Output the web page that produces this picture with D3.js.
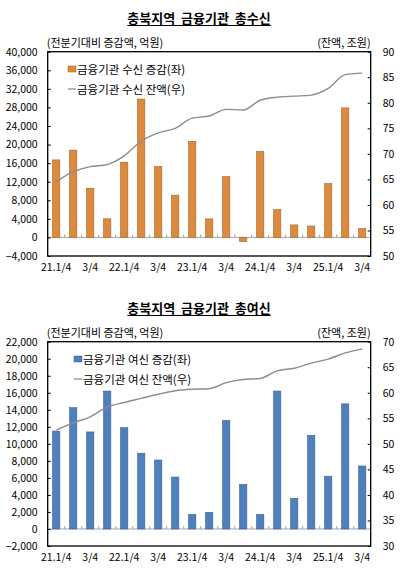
<!DOCTYPE html>
<html>
<head>
<meta charset="utf-8">
<script src="https://cdn.jsdelivr.net/npm/d3@7"></script>
<style>
  body { margin: 0; background: #fff; }
  text { font-family: "Noto Sans CJK KR", "Noto Sans", sans-serif; fill: #000; }
</style>
</head>
<body>
<div id="chart"></div>
<script>
// quarters 21.1/4 ~ 25.3/4
const quarters = ["21.1/4","21.2/4","21.3/4","21.4/4","22.1/4","22.2/4","22.3/4","22.4/4",
                  "23.1/4","23.2/4","23.3/4","23.4/4","24.1/4","24.2/4","24.3/4","24.4/4",
                  "25.1/4","25.2/4","25.3/4"];
const xTickLabels = ["21.1/4","3/4","22.1/4","3/4","23.1/4","3/4","24.1/4","3/4","25.1/4","3/4"];

// 총수신
const depositChange  = [16700,18800,10600,4000,16200,29800,15300,9100,20700,4000,13100,-900,18500,6000,2700,2450,11600,27900,1900];
const depositBalance = [64.5,66.5,67.5,67.9,69.6,72.5,74.1,75.0,77.0,77.4,78.7,78.6,80.5,81.1,81.3,81.5,82.8,85.5,85.8];
const depositLeftTicks  = [-4000,0,4000,8000,12000,16000,20000,24000,28000,32000,36000,40000];
const depositRightTicks = [50,55,60,65,70,75,80,85,90];

// 총여신
const loanChange  = [11500,14250,11400,16200,11900,8900,8100,6100,1700,1950,12750,5250,1700,16200,3600,11000,6200,14700,7400];
const loanBalance = [52.7,54.1,55.3,57.2,58.1,58.9,59.7,60.4,60.7,60.8,62.0,62.6,62.8,64.3,64.8,65.8,66.6,67.8,68.6];
const loanLeftTicks  = [-2000,0,2000,4000,6000,8000,10000,12000,14000,16000,18000,20000,22000];
const loanRightTicks = [30,35,40,45,50,55,60,65,70];

const width = 400;
const height = 580;

const svg = d3.select("#chart").append("svg")
    .attr("width", width)
    .attr("height", height);

function drawPanel(p) {
    var g = svg.append("g").attr("transform", "translate(0," + p.offset + ")");

    var left = 47.7, right = 370.7, top = 51.7, bottom = 256;

    var x = d3.scaleBand().domain(quarters).range([left, right])
        .paddingInner(0.57).paddingOuter(0.285);
    var yL = d3.scaleLinear().domain(d3.extent(p.leftTicks)).range([bottom, top]);
    var yR = d3.scaleLinear().domain(d3.extent(p.rightTicks)).range([bottom, top]);

    // title + underline
    var title = g.append("text")
        .attr("x", 199).attr("y", 22.5)
        .attr("text-anchor", "middle")
        .style("font-size", "13px").style("font-weight", "bold")
        .style("white-space", "pre")
        .text(p.title);
    var tw = title.node().getComputedTextLength();
    g.append("line")
        .attr("x1", 199 - tw / 2).attr("x2", 199 + tw / 2)
        .attr("y1", 25.5).attr("y2", 25.5)
        .attr("stroke", "#000").attr("stroke-width", 1);

    // units
    g.append("text").attr("x", left - 1).attr("y", 46.5)
        .style("font-size", "11px").text("(전분기대비 증감액, 억원)");
    g.append("text").attr("x", right).attr("y", 46.5)
        .attr("text-anchor", "end")
        .style("font-size", "11px").text("(잔액, 조원)");

    // zero line with ticks between bars
    g.append("line")
        .attr("x1", left).attr("x2", right)
        .attr("y1", yL(0)).attr("y2", yL(0))
        .attr("stroke", "#a6a6a6").attr("stroke-width", 1);
    g.selectAll(".zt")
        .data(quarters.slice(1))
        .enter().append("line")
        .attr("x1", function(d) { return x(d) - x.step() * x.paddingInner() / 2; })
        .attr("x2", function(d) { return x(d) - x.step() * x.paddingInner() / 2; })
        .attr("y1", yL(0)).attr("y2", yL(0) - 3)
        .attr("stroke", "#a6a6a6").attr("stroke-width", 1);

    // bars
    g.selectAll(".bar")
        .data(p.change)
        .enter().append("rect")
        .attr("x", function(d, i) { return x(quarters[i]); })
        .attr("width", x.bandwidth())
        .attr("y", function(d) { return yL(Math.max(0, d)); })
        .attr("height", function(d) { return Math.abs(yL(d) - yL(0)); })
        .attr("fill", p.barColor)
        .attr("stroke", p.barStroke)
        .attr("stroke-width", 0.6);

    // balance line
    var line = d3.line()
        .x(function(d, i) { return x(quarters[i]) + x.bandwidth() / 2; })
        .y(function(d) { return yR(d); })
        .curve(d3.curveMonotoneX);
    g.append("path")
        .datum(p.balance)
        .attr("d", line)
        .attr("fill", "none")
        .attr("stroke", "#8c8c8c")
        .attr("stroke-width", 1.4);

    // axes
    var fmt = d3.format(",");
    var la = g.append("g").attr("transform", "translate(" + left + ",0)")
        .call(d3.axisLeft(yL).tickValues(p.leftTicks).tickFormat(fmt)
            .tickSizeInner(-3).tickSizeOuter(0).tickPadding(10));
    var ra = g.append("g").attr("transform", "translate(" + right + ",0)")
        .call(d3.axisRight(yR).tickValues(p.rightTicks)
            .tickSizeInner(-3).tickSizeOuter(0).tickPadding(12));
    var ba = g.append("g").attr("transform", "translate(0," + bottom + ")")
        .call(d3.axisBottom(x)
            .tickValues(quarters.filter(function(d, i) { return i % 2 == 0; }))
            .tickFormat(function(d, i) { return xTickLabels[i]; })
            .tickSize(0).tickPadding(8));
    [la, ra, ba].forEach(function(a) {
        a.select(".domain").remove();
        a.selectAll("text").style("font-size", "10.5px").attr("fill", "#000")
            .style("font-family", "\"Noto Sans CJK KR\", sans-serif");
        a.selectAll("line").attr("stroke", "#000");
    });

    // frame
    g.append("rect")
        .attr("x", left).attr("y", top)
        .attr("width", right - left).attr("height", bottom - top)
        .attr("fill", "none").attr("stroke", "#000").attr("stroke-width", 1.3);

    // legend
    g.append("rect")
        .attr("x", p.legendX).attr("y", 66)
        .attr("width", 8).attr("height", 6)
        .attr("fill", p.barColor).attr("stroke", p.barStroke).attr("stroke-width", 0.5);
    g.append("text").attr("x", p.legendX + 9).attr("y", 73.5)
        .style("font-size", "11.5px").text(p.barLabel);
    g.append("line")
        .attr("x1", p.legendX).attr("x2", p.legendX + 8)
        .attr("y1", 89).attr("y2", 89)
        .attr("stroke", "#8c8c8c").attr("stroke-width", 1.3);
    g.append("text").attr("x", p.legendX + 9).attr("y", 93.5)
        .style("font-size", "11.5px").text(p.lineLabel);
}

drawPanel({
    offset: 0,
    title: "충북지역  금융기관  총수신",
    change: depositChange,
    balance: depositBalance,
    leftTicks: depositLeftTicks,
    rightTicks: depositRightTicks,
    barColor: "#dc8a3e",
    barStroke: "#a8642c",
    legendX: 68,
    barLabel: "금융기관 수신 증감(좌)",
    lineLabel: "금융기관 수신 잔액(우)"
});

drawPanel({
    offset: 290,
    title: "충북지역  금융기관  총여신",
    change: loanChange,
    balance: loanBalance,
    leftTicks: loanLeftTicks,
    rightTicks: loanRightTicks,
    barColor: "#4f7fbd",
    barStroke: "#3a6297",
    legendX: 74,
    barLabel: "금융기관 여신 증감(좌)",
    lineLabel: "금융기관 여신 잔액(우)"
});
</script>
</body>
</html>
